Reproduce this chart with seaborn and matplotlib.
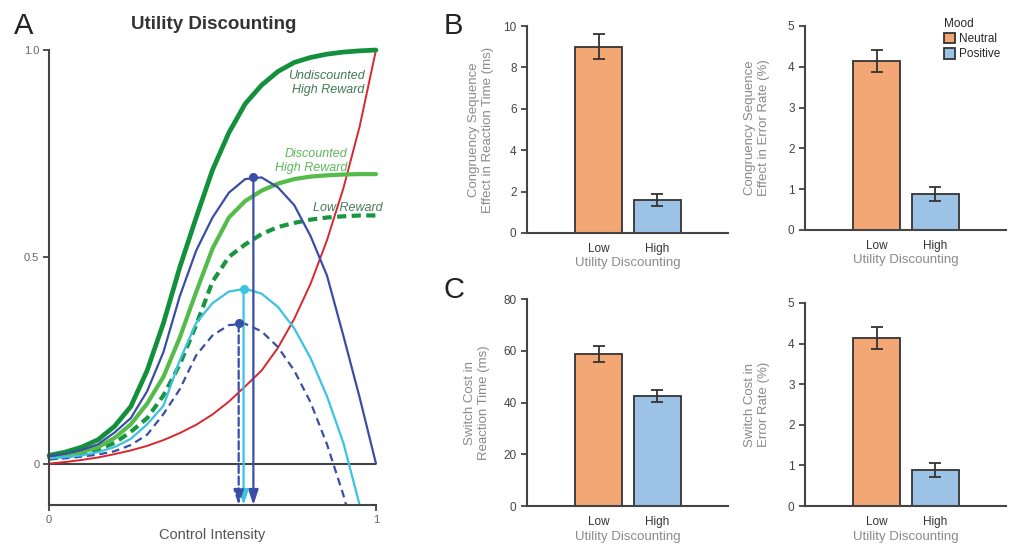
import pandas as pd
import seaborn as sns
import matplotlib.pyplot as plt

sns.set_style('ticks')
plt.rcParams['font.family'] = ['Liberation Sans', 'DejaVu Sans']

#Panel A: curvas (valor en cada intensidad de control)
intensidad = [0.0, 0.05, 0.1, 0.15, 0.2, 0.25, 0.3, 0.35, 0.4, 0.45, 0.5,
              0.55, 0.6, 0.65, 0.7, 0.75, 0.8, 0.85, 0.9, 0.95, 1.0]
sin_descuento = [0.020, 0.028, 0.040, 0.058, 0.090, 0.138, 0.225, 0.340, 0.475, 0.595, 0.710,
                 0.800, 0.870, 0.915, 0.948, 0.970, 0.982, 0.990, 0.995, 0.998, 1.000]
con_descuento = [0.015, 0.020, 0.028, 0.040, 0.062, 0.095, 0.145, 0.210, 0.305, 0.415, 0.520,
                 0.595, 0.635, 0.660, 0.677, 0.688, 0.694, 0.697, 0.699, 0.700, 0.700]
recompensa_baja = [0.012, 0.017, 0.024, 0.034, 0.050, 0.077, 0.110, 0.165, 0.240, 0.335, 0.440,
                   0.500, 0.530, 0.555, 0.572, 0.582, 0.590, 0.595, 0.598, 0.600, 0.600]
costo = [0.000, 0.004, 0.009, 0.015, 0.023, 0.032, 0.043, 0.057, 0.074, 0.094, 0.119,
         0.150, 0.187, 0.225, 0.280, 0.350, 0.435, 0.540, 0.665, 0.815, 1.000]
util_alta = [0.018, 0.024, 0.033, 0.047, 0.075, 0.110, 0.175, 0.270, 0.405, 0.515, 0.595,
             0.655, 0.688, 0.692, 0.668, 0.625, 0.550, 0.455, 0.310, 0.160, 0.000]
util_desc = [0.013, 0.016, 0.020, 0.028, 0.040, 0.060, 0.095, 0.140, 0.250, 0.340, 0.388,
             0.416, 0.423, 0.411, 0.379, 0.327, 0.255, 0.163, 0.051, -0.100, -0.300]
util_baja = [0.011, 0.013, 0.017, 0.022, 0.030, 0.045, 0.070, 0.120, 0.180, 0.262, 0.310,
             0.335, 0.338, 0.320, 0.282, 0.225, 0.148, 0.047, -0.075, -0.220, -0.400]

#Maximos de utilidad (intensidad optima)
pico_x = [0.625, 0.595, 0.580]
pico_y = [0.693, 0.423, 0.339]

#Paneles B y C
niveles = ['Low', 'High']
animo = ['Neutral', 'Positive']
cse_rt = [9.0, 1.6]
cse_rt_err = [0.6, 0.28]
cse_er = [4.13, 0.88]
cse_er_err = [0.27, 0.17]
sc_rt = [58.8, 42.5]
sc_rt_err = [3.0, 2.2]
sc_er = [4.14, 0.885]
sc_er_err = [0.27, 0.17]

colores_animo = {'Neutral': '#f2a775', 'Positive': '#9cc3e5'}
gris = '#333333'
gris_claro = '#8a8a8a'

fig = plt.figure(figsize=(10.11, 5.49), dpi=100)

#Panel A
axA = fig.add_axes([0.0485, 0.0801, 0.3234, 0.8288])
axA.axhline(0, color='#444444', lw=1.5)
sns.lineplot(x=intensidad, y=costo, ax=axA, color='#d7282f', lw=1.4, errorbar=None, clip_on=False)
sns.lineplot(x=intensidad, y=recompensa_baja, ax=axA, color='#17963f', lw=3.0,
             linestyle=(0, (2.2, 1.3)), errorbar=None, clip_on=False)
sns.lineplot(x=intensidad, y=con_descuento, ax=axA, color='#55bb4a', lw=3.0, errorbar=None, clip_on=False)
sns.lineplot(x=intensidad, y=sin_descuento, ax=axA, color='#12903c', lw=3.4, errorbar=None, clip_on=False)
sns.lineplot(x=intensidad, y=util_baja, ax=axA, color='#3a4ea6', lw=1.6,
             linestyle=(0, (3.5, 2.2)), errorbar=None)
sns.lineplot(x=intensidad, y=util_desc, ax=axA, color='#3cc3df', lw=1.6, errorbar=None)
sns.lineplot(x=intensidad, y=util_alta, ax=axA, color='#3a4ea6', lw=1.6, errorbar=None, clip_on=False)

estilos = [('#3a4ea6', '-'), ('#3cc3df', '-'), ('#3a4ea6', '--')]
for px, py, (c, ls) in zip(pico_x, pico_y, estilos):
    axA.annotate('', xy=(px, -0.1), xytext=(px, py),
                 arrowprops=dict(arrowstyle='-|>,head_length=0.9,head_width=0.3', color=c,
                                 lw=1.6, linestyle=ls, shrinkA=0, shrinkB=0))
    axA.plot(px, py, 'o', color=c, ms=5.5, zorder=5)

axA.text(0.966, 0.92, 'Undiscounted\nHigh Reward', ha='right', va='center', style='italic',
         fontsize=9, color='#3f7a52', linespacing=1.15)
axA.text(0.911, 0.732, 'Discounted\nHigh Reward', ha='right', va='center', style='italic',
         fontsize=9, color='#5cb85a', linespacing=1.15)
axA.text(1.02, 0.617, 'Low Reward', ha='right', va='center', style='italic',
         fontsize=9, color='#4a7a5a', clip_on=False)

axA.set_xlim(0, 1)
axA.set_ylim(-0.1, 1.0)
axA.set_yticks([0, 0.5, 1.0], ['0', '0.5', '1.0'])
axA.set_xticks([0, 1], ['0', '1'])
axA.set_xlabel('Control Intensity', fontsize=10.5, color='#555555')
axA.xaxis.set_label_coords(0.5, -0.05)
axA.tick_params(length=4, width=1.2, color=gris, labelsize=8, labelcolor='#666666', pad=3)
sns.despine(ax=axA)
for s in ['left', 'bottom']:
    axA.spines[s].set_linewidth(1.5)
    axA.spines[s].set_color('#444444')

fig.text(0.211, 0.955, 'Utility Discounting', ha='center', va='center', fontsize=13.5,
         fontweight='bold', color='#333333')


#Funcion para los paneles de barras
def barras(ax, valores, errores, etiqueta, ymax, ticks, leyenda=False, xlab=-0.17):
    df = pd.DataFrame({'Utility Discounting': niveles, 'valor': valores, 'Mood': animo})
    sns.barplot(data=df, x='Utility Discounting', y='valor', hue='Mood', palette=colores_animo,
                dodge=False, width=0.8, saturation=1, edgecolor=gris, linewidth=1.3,
                errorbar=None, legend=leyenda, ax=ax)
    ax.errorbar(range(len(niveles)), valores, yerr=errores, fmt='none', ecolor=gris,
                elinewidth=1.3, capsize=4, capthick=1.3)
    ax.set_xlim(-1.22, 2.2)
    ax.set_ylim(0, ymax)
    ax.set_yticks(ticks)
    ax.set_ylabel(etiqueta, fontsize=9.5, color=gris_claro, linespacing=1.2)
    ax.yaxis.set_label_coords(xlab, 0.5)
    ax.set_xlabel('Utility Discounting', fontsize=9.5, color=gris_claro, labelpad=2)
    ax.tick_params(axis='y', length=4, width=1.2, color=gris, labelsize=8.5, labelcolor='#444444')
    ax.tick_params(axis='x', length=0, pad=7, labelsize=8.5, labelcolor='#333333')
    sns.despine(ax=ax)
    for s in ['left', 'bottom']:
        ax.spines[s].set_linewidth(1.5)
        ax.spines[s].set_color('#444444')
    if leyenda:
        sns.move_legend(ax, 'upper left', bbox_to_anchor=(0.69, 1.04), frameon=False,
                        title='Mood', fontsize=8.5, title_fontsize=8.5, alignment='left',
                        handlelength=1.0, handleheight=1.0, handletextpad=0.3,
                        labelspacing=0.25, borderpad=0, borderaxespad=0)


axB1 = fig.add_axes([0.5213, 0.5756, 0.1988, 0.3770])
barras(axB1, cse_rt, cse_rt_err, 'Congruency Sequence\nEffect in Reaction Time (ms)', 10,
       [0, 2, 4, 6, 8, 10], xlab=-0.164)
axB2 = fig.add_axes([0.7962, 0.5811, 0.1988, 0.3716])
barras(axB2, cse_er, cse_er_err, 'Congruency Sequence\nEffect in Error Rate (%)', 5,
       [0, 1, 2, 3, 4, 5], leyenda=True, xlab=-0.174)
axC1 = fig.add_axes([0.5213, 0.0783, 0.1988, 0.3770])
barras(axC1, sc_rt, sc_rt_err, 'Switch Cost in\nReaction Time (ms)', 80,
       [0, 20, 40, 60, 80], xlab=-0.184)
axC2 = fig.add_axes([0.7962, 0.0783, 0.1988, 0.3698])
barras(axC2, sc_er, sc_er_err, 'Switch Cost in\nError Rate (%)', 5,
       [0, 1, 2, 3, 4, 5], xlab=-0.174)

#Letras de los paneles
fig.text(0.014, 0.978, 'A', fontsize=21, va='top', color='#222222')
fig.text(0.439, 0.978, 'B', fontsize=21, va='top', color='#222222')
fig.text(0.439, 0.497, 'C', fontsize=21, va='top', color='#222222')

plt.savefig('out.png', dpi=100)
